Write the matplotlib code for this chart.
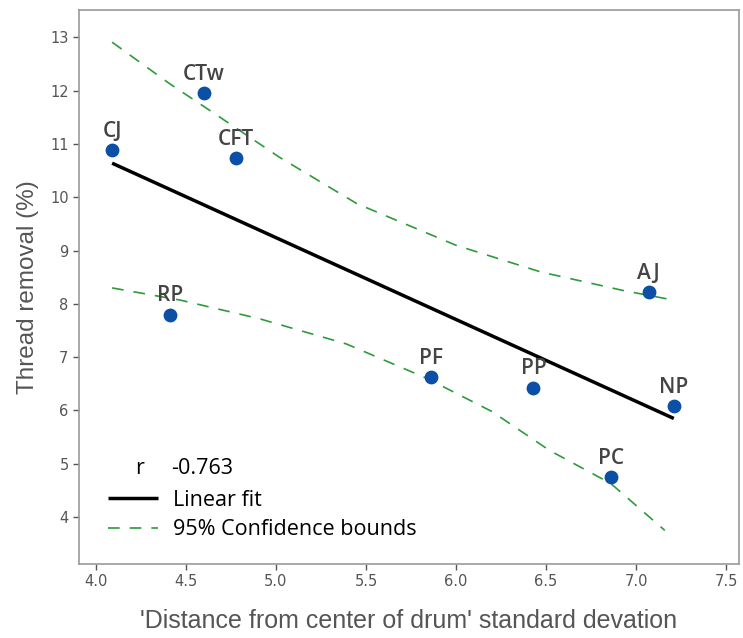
import matplotlib.pyplot as plt
import numpy as np

# samples: x = std of distance from drum centre, y = thread removal (%)
names = ["CJ", "CTw", "CFT", "RP", "PF", "PP", "AJ", "NP", "PC"]
dist_sd = [4.09, 4.60, 4.78, 4.41, 5.86, 6.43, 7.07, 7.21, 6.86]
removal = [10.88, 11.95, 10.73, 7.80, 6.62, 6.43, 8.22, 6.08, 4.75]

fit_x = [4.09, 7.21]
fit_y = [10.64, 5.85]

upper_x = [4.09, 4.41, 4.69, 5.02, 5.45, 6.00, 6.47, 6.93, 7.21]
upper_y = [12.91, 12.13, 11.50, 10.75, 9.88, 9.10, 8.60, 8.25, 8.07]
lower_x = [4.09, 4.47, 4.91, 5.39, 5.84, 6.20, 6.52, 6.86, 7.16]
lower_y = [8.30, 8.07, 7.72, 7.25, 6.60, 5.98, 5.25, 4.63, 3.75]

r_value = "-0.763"

green = "#2e9a3a"
blue = "#0b4fa6"
grey = "#444444"

fig = plt.figure(figsize=(7.43, 6.38), dpi=100)
ax = fig.add_axes([0.1063, 0.116, 0.8883, 0.868])

ax.plot(upper_x, upper_y, color=green, lw=1.2, dashes=(7, 6))
ax.plot(lower_x, lower_y, color=green, lw=1.2, dashes=(7, 6),
        label="95% Confidence bounds")
ax.plot(fit_x, fit_y, color="black", lw=2.5, solid_capstyle="butt",
        label="Linear fit")
ax.scatter(dist_sd, removal, s=80, color=blue, zorder=3)

for n, x, y in zip(names, dist_sd, removal):
    ax.annotate(n, (x, y), xytext=(0, 6), textcoords="offset points",
                ha="center", va="bottom", fontsize=15, color=grey,
                family="Open Sans", weight="semibold")

ax.set_xlim(3.906, 7.572)
ax.set_ylim(3.12, 13.51)
ax.set_xticks(np.arange(4.0, 7.51, 0.5))
ax.set_yticks(range(4, 14))
ax.tick_params(colors="#555555", labelsize=10.5, length=4, width=1)
for s in ax.spines.values():
    s.set_color("#9a9a9a")
    s.set_linewidth(1.2)

ax.set_xlabel("'Distance from center of drum' standard devation",
              fontsize=18, color="#555555", family="Liberation Sans", labelpad=14)
ax.set_ylabel("Thread removal (%)", fontsize=17.5, color="#555555",
              family="Liberation Sans", labelpad=8)

h, l = ax.get_legend_handles_labels()
ax.legend(h[::-1], l[::-1], loc="lower left", bbox_to_anchor=(0.015, 0.008),
          frameon=False, handlelength=2.3, handletextpad=0.7, labelspacing=0.4,
          prop={"family": "Open Sans", "size": 15.5})
ax.text(0.092, 0.173, "r", transform=ax.transAxes, fontsize=15.5,
        family="Open Sans", ha="center", va="center")
ax.text(0.140, 0.173, r_value, transform=ax.transAxes, fontsize=15.5,
        family="Open Sans", va="center")

fig.savefig("out.png", dpi=100)
